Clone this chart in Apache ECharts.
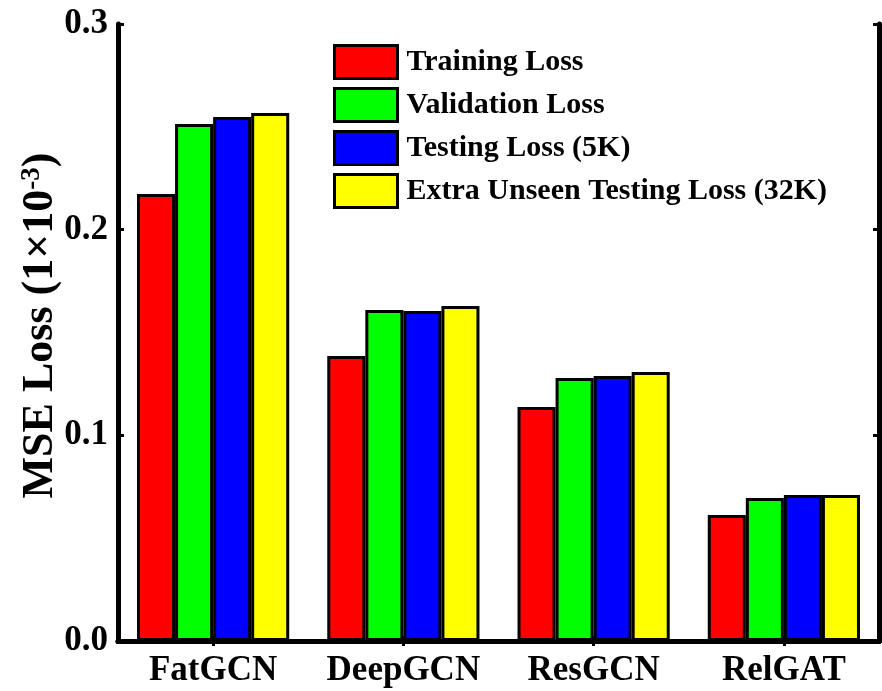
<!DOCTYPE html>
<html>
<head>
<meta charset="utf-8">
<script src="https://cdn.jsdelivr.net/npm/echarts@6/dist/echarts.min.js"></script>
<style>
  html, body { margin: 0; padding: 0; background: #fff; }
  #chart { width: 882px; height: 691px; }
</style>
</head>
<body>
<div id="chart"></div>
<script>
// Models compared
const models = ['FatGCN', 'DeepGCN', 'ResGCN', 'RelGAT'];

// MSE loss per model (units of 1e-3)
const trainingLoss   = [0.2173, 0.1386, 0.1138, 0.0613];
const validationLoss = [0.2514, 0.1609, 0.1279, 0.0695];
const testingLoss5K  = [0.2548, 0.1605, 0.1288, 0.0710];
const extraLoss32K   = [0.2567, 0.1629, 0.1308, 0.0710];

const seriesNames = [
  'Training Loss',
  'Validation Loss',
  'Testing Loss (5K)',
  'Extra Unseen Testing Loss (32K)'
];
const seriesColors = ['#ff0000', '#00ff00', '#0000ff', '#ffff00'];
const seriesData = [trainingLoss, validationLoss, testingLoss5K, extraLoss32K];

const FONT = '"Liberation Serif", "Times New Roman", serif';

const chart = echarts.init(document.getElementById('chart'), null, { renderer: 'canvas' });

const axisLineStyle = { color: '#000', width: 5 };
const tickStyle = { color: '#000', width: 3 };

chart.setOption({
  animation: false,
  backgroundColor: '#fff',
  grid: { left: 118, right: 3, top: 24, bottom: 50 },
  legend: {
    orient: 'vertical',
    left: 333,
    top: 44,
    padding: 0,
    itemWidth: 63,
    itemHeight: 33,
    itemGap: 7,
    icon: 'rect',
    data: seriesNames,
    itemStyle: { borderColor: '#000', borderWidth: 3 },
    textStyle: { fontFamily: FONT, fontWeight: 'bold', fontSize: 30, color: '#000', padding: [0, 0, 0, 4] }
  },
  xAxis: [
    {
      type: 'category',
      data: models,
      position: 'bottom',
      axisLine: { lineStyle: axisLineStyle },
      axisTick: { show: true, inside: true, alignWithLabel: true, length: 5, lineStyle: tickStyle },
      axisLabel: { interval: 0, fontFamily: FONT, fontWeight: 'bold', fontSize: 35, color: '#000', margin: 12 }
    },
    {
      type: 'category',
      data: models,
      position: 'top',
      axisLine: { lineStyle: axisLineStyle },
      axisTick: { show: true, inside: true, alignWithLabel: true, length: 5, lineStyle: tickStyle },
      axisLabel: { show: false }
    }
  ],
  yAxis: [
    {
      type: 'value',
      min: 0,
      max: 0.3,
      interval: 0.1,
      position: 'left',
      name: 'MSE Loss (1×10{sup|-3})',
      nameLocation: 'middle',
      nameGap: 55,
      nameMoveOverlap: false,
      nameRotate: 90,
      nameTextStyle: {
        fontFamily: FONT, fontWeight: 'bold', fontSize: 44, color: '#000',
        padding: [0, 0, 0, 14],
        rich: {
          sup: { fontFamily: FONT, fontWeight: 'bold', fontSize: 27, color: '#000', verticalAlign: 'top', lineHeight: 44 }
        }
      },
      axisLine: { show: true, lineStyle: axisLineStyle },
      axisTick: { show: true, inside: true, length: 6, lineStyle: tickStyle },
      minorTick: { show: true, splitNumber: 2, length: 3, lineStyle: { color: '#000', width: 2 } },
      splitLine: { show: false },
      axisLabel: {
        fontFamily: FONT, fontWeight: 'bold', fontSize: 35, color: '#000', margin: 10,
        formatter: v => v.toFixed(1)
      }
    },
    {
      type: 'value',
      min: 0,
      max: 0.3,
      interval: 0.1,
      position: 'right',
      axisLine: { show: true, lineStyle: axisLineStyle },
      axisTick: { show: true, inside: true, length: 6, lineStyle: tickStyle },
      splitLine: { show: false },
      axisLabel: { show: false }
    }
  ],
  series: seriesNames.map((name, i) => ({
    name: name,
    type: 'bar',
    data: seriesData[i],
    barGap: '0%',
    barCategoryGap: '20%',
    itemStyle: { color: seriesColors[i], borderColor: '#000', borderWidth: 3 }
  }))
});
</script>
</body>
</html>
